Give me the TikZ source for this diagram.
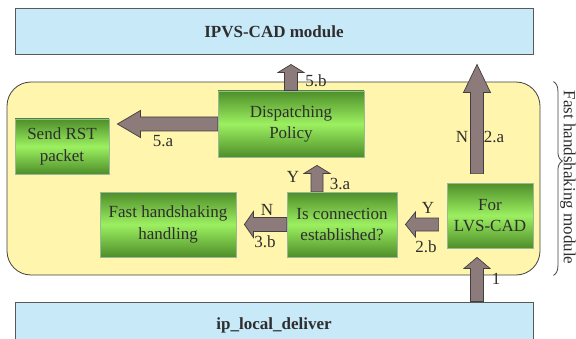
\documentclass[tikz,border=0pt]{standalone}
\usepackage{fontspec}
\setmainfont{Liberation Serif}
\newfontfamily\figserif{Liberation Serif}
\usepackage{xcolor}
\usetikzlibrary{calc,decorations.pathreplacing}
\definecolor{modblue}{HTML}{C7E9F8}
\definecolor{modyellow}{HTML}{FFF5AD}
\definecolor{gdark}{HTML}{4E8E2A}
\definecolor{glight}{HTML}{9CF060}
\definecolor{arrfill}{HTML}{8C7B7A}
\definecolor{txt}{HTML}{2E2E2E}
\newcommand{\figfont}{\figserif\fontsize{17}{21.5}\selectfont}

\begin{document}
\begin{tikzpicture}[x=1pt,y=1pt,font=\figfont,text=txt,
 layer/.style={draw=black!65,line width=1pt,fill=modblue,minimum width=518pt,minimum height=46pt,inner sep=0pt,font=\figfont\bfseries},
 modbox/.style={draw=black!75,line width=.8pt,fill=modyellow,rounded corners=24pt,minimum width=533pt,minimum height=193pt},
 stage/.style={draw=black!70!green!40,line width=.8pt,top color=gdark,bottom color=gdark,middle color=glight,
   inner sep=0pt,align=center,minimum height=65pt},
 lab/.style={inner sep=0pt},
 fat/.style n args={3}{draw=black!75,fill=arrfill,line width=.7pt,line join=miter,
   to path={let \p1=(\tikztostart),\p2=(\tikztotarget),
     \n1={atan2(\y2-\y1,\x2-\x1)},\n2={veclen(\x2-\x1,\y2-\y1)-#3} in
     -- ($(\p1)+(\n1+90:#1)$) -- ($(\p1)+(\n1:\n2)+(\n1+90:#1)$)
     -- ($(\p1)+(\n1:\n2)+(\n1+90:#2)$) -- (\p2)
     -- ($(\p1)+(\n1:\n2)+(\n1-90:#2)$) -- ($(\p1)+(\n1:\n2)+(\n1-90:#1)$)
     -- ($(\p1)+(\n1-90:#1)$) -- cycle}}]
\useasboundingbox (0,0) rectangle (576,338);
% layers
\node[layer] (ipvs) at (274,306) {IPVS-CAD module};
\node[layer] (ipld) at (274,13) {ip\_local\_deliver};
\node[modbox] (fhm) at (273.5,159.5) {};
% stages inside the module
\node[stage,minimum width=146pt,minimum height=66pt] (disp) at (291,214) {Dispatching\\Policy};
\node[stage,minimum width=94pt,minimum height=55pt] (sendrst) at (62,191.5) {Send RST\\packet};
\node[stage,minimum width=136pt] (fhh) at (168,113.5) {Fast handshaking\\handling};
\node[stage,minimum width=110pt] (isconn) at (342,113.5) {Is connection\\established?};
\node[stage,minimum width=86pt] (forlvs) at (490,122.5) {For\\LVS-CAD};
% arrow ends
\coordinate (s2a) at ([xshift=-13pt,yshift=9pt]forlvs.north);
\coordinate (t2a) at ([yshift=-9pt]ipvs.south -| s2a);
\coordinate (s1) at (ipld.north -| s2a);
\coordinate (t1) at ([yshift=18pt]fhm.south -| s2a);
\coordinate (t5b) at ([yshift=-9pt]ipvs.south -| disp.north);
\coordinate (t5a) at ([xshift=8pt]sendrst.east |- disp.west);
\coordinate (s3a) at ([xshift=-25pt]isconn.north);
\coordinate (t3a) at ([yshift=-8pt]disp.south -| s3a);
\coordinate (t3b) at ([xshift=8pt]fhh.east);
\coordinate (s2b) at ([xshift=-8pt]forlvs.west |- isconn.east);
\coordinate (t2b) at ([xshift=8pt]isconn.east);
% arrows
\draw[fat={6.5}{13}{11}] (s1) to (t1);
\draw[fat={6.5}{12.5}{10}] (s2b) to (t2b);
\draw[fat={6.5}{13.5}{28}] (s2a) to (t2a);
\draw[fat={6}{13}{8}] (s3a) to (t3a);
\draw[fat={7}{13}{9}] (isconn.west) to (t3b);
\draw[fat={6.5}{13}{8}] (disp.north) to (t5b);
\draw[fat={7}{13.5}{23}] (disp.west) to (t5a);
% labels
\node[lab] at (496,59) {1};
\node[lab] at (462,201) {N};
\node[lab] at (494,201) {2.a};
\node[lab] at (428,130) {Y};
\node[lab] at (426,91) {2.b};
\node[lab] at (293,161) {Y};
\node[lab] at (340,154) {3.a};
\node[lab] at (267,128) {N};
\node[lab] at (265,96) {3.b};
\node[lab] at (163,197) {5.a};
\node[lab] at (316,257) {5.b};
% brace
\draw[black!75,line width=.8pt,decorate,decoration={brace,amplitude=9pt,aspect=0.41}]
  ([xshift=13pt]fhm.north east) -- ([xshift=13pt]fhm.south east);
\node[rotate=-90] at (568,160.5) {Fast handshaking module};
\end{tikzpicture}
\end{document}
